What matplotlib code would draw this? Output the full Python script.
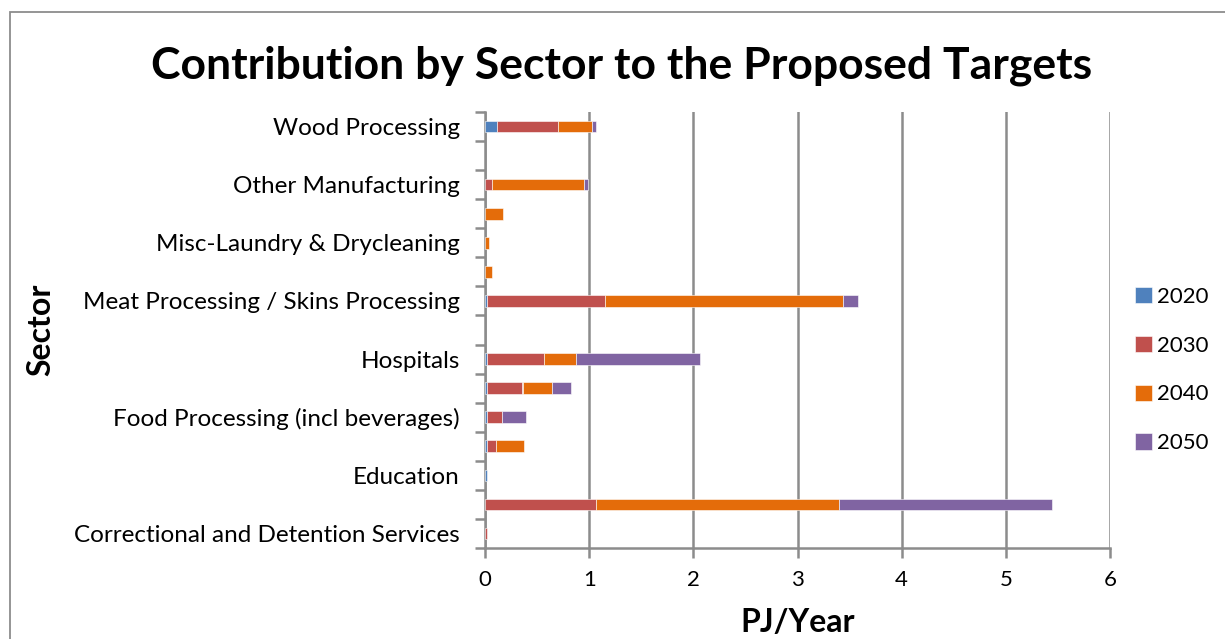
import matplotlib
matplotlib.use("Agg")
import matplotlib.pyplot as plt
import numpy as np
from matplotlib.patches import Rectangle

# Categories from bottom to top (unlabelled ones are hidden by the chart)
categories = [
    "Correctional and Detention Services", "",
    "Education", "",
    "Food Processing (incl beverages)", "",
    "Hospitals", "",
    "Meat Processing / Skins Processing", "",
    "Misc-Laundry & Drycleaning", "",
    "Other Manufacturing", "",
    "Wood Processing",
]
series_names = ["2020", "2030", "2040", "2050"]
v2020 = [0.00, 0.00, 0.02, 0.02, 0.02, 0.02, 0.02, 0.00, 0.02, 0.00, 0.00, 0.00, 0.00, 0.00, 0.12]
v2030 = [0.02, 1.07, 0.00, 0.09, 0.14, 0.34, 0.55, 0.00, 1.13, 0.00, 0.00, 0.00, 0.07, 0.00, 0.58]
v2040 = [0.00, 2.33, 0.00, 0.26, 0.00, 0.28, 0.30, 0.00, 2.29, 0.07, 0.04, 0.17, 0.88, 0.00, 0.33]
v2050 = [0.00, 2.04, 0.00, 0.00, 0.23, 0.19, 1.19, 0.00, 0.14, 0.00, 0.00, 0.00, 0.04, 0.00, 0.04]
colors = ["#4F81BD", "#C0504D", "#E46C0A", "#8064A2"]
x_ticks = [0, 1, 2, 3, 4, 5, 6]

plt.rcParams['font.family'] = ['Lato', 'DejaVu Sans']

fig = plt.figure(figsize=(12.25, 6.39), dpi=100)
W, H = 1225, 639
ax = fig.add_axes([485 / W, 1 - 548 / H, (1110 - 485) / W, (548 - 112) / H])

# outer chart border
fig.patches.append(Rectangle((10 / W, -0.01), 1.2, 1 - 12 / H + 0.01,
                             transform=fig.transFigure, fill=False,
                             edgecolor="#8c8c8c", linewidth=1.3))

y = np.arange(len(categories))
left = np.zeros(len(categories))
for name, vals, c in zip(series_names, [v2020, v2030, v2040, v2050], colors):
    vals = np.array(vals)
    mask = vals > 0
    ax.barh(y[mask], vals[mask], left=left[mask], height=0.4, color=c, label=name,
            edgecolor="white", linewidth=0.4, zorder=3)
    left += vals

ax.set_xlim(0, 6)
ax.set_ylim(-0.5, len(categories) - 0.5)
ax.set_xticks(x_ticks)
ax.set_xticklabels([str(t) for t in x_ticks], fontsize=16)
ax.xaxis.grid(True, color="#8c8c8c", linewidth=1.8, zorder=0)
ax.set_axisbelow(True)

ax.set_yticks(np.arange(len(categories) + 1) - 0.5)
ax.set_yticklabels([])
ax.set_yticks(y, minor=True)
ax.set_yticklabels(categories, minor=True, fontsize=17.5)
ax.tick_params(axis='y', which='major', length=7, width=1.8, color="#8c8c8c", direction='out')
ax.tick_params(axis='y', which='minor', length=0, pad=18)
ax.tick_params(axis='x', length=7, width=1.8, color="#8c8c8c", direction='out', pad=9)

for s in ["top", "right"]:
    ax.spines[s].set_visible(False)
for s in ["left", "bottom"]:
    ax.spines[s].set_color("#8c8c8c")
    ax.spines[s].set_linewidth(1.8)

ax.set_xlabel("PJ/Year", fontsize=23, fontweight='bold', labelpad=13)
ax.set_ylabel("Sector", fontsize=23, fontweight='bold')
ax.yaxis.set_label_coords(-430 / 625, 0.5)

fig.text(622 / W, 1 - 66 / H, "Contribution by Sector to the Proposed Targets",
         ha='center', va='center', fontsize=32, fontweight='bold')

handles, labels = ax.get_legend_handles_labels()
leg = fig.legend(handles, labels, loc='center left', bbox_to_anchor=(1115 / W, 1 - 370 / H),
                 frameon=False, fontsize=16, handlelength=0.75, handleheight=0.75,
                 handletextpad=0.25, labelspacing=1.3)

fig.savefig("out.png", dpi=100, facecolor="white")
